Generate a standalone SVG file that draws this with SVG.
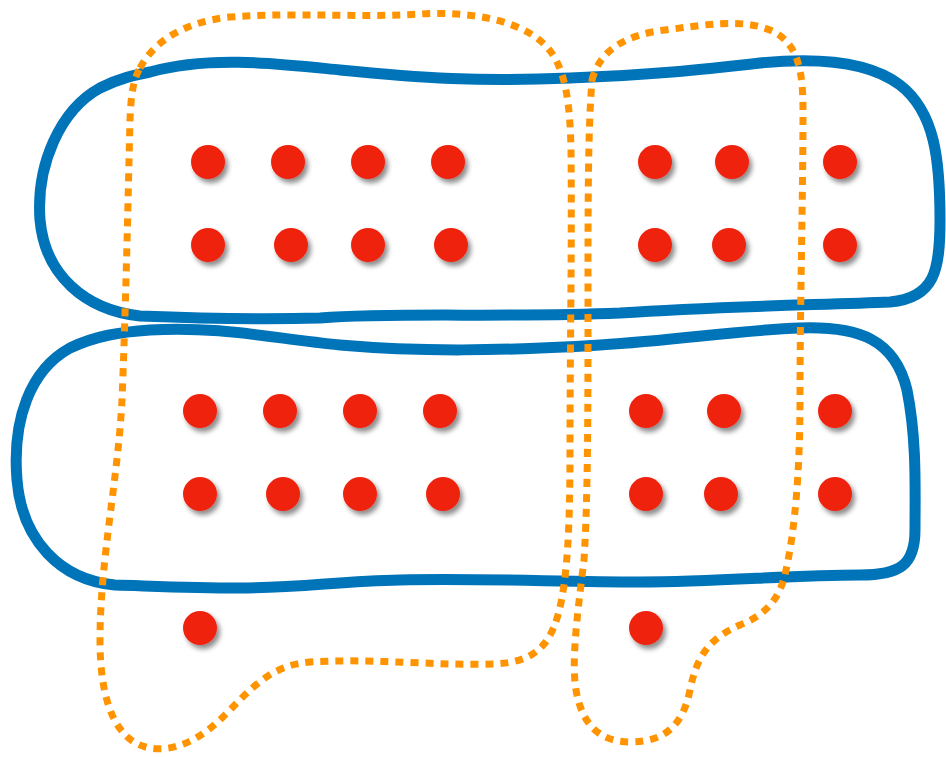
<svg xmlns="http://www.w3.org/2000/svg" width="946" height="757" viewBox="0 0 946 757">
<style>
.blue{fill:none;stroke:#0074B8;stroke-width:11;stroke-linejoin:round}
.orange{fill:none;stroke:#FF9400;stroke-width:7;stroke-dasharray:8 7}
.dot{fill:#EE2211;filter:url(#sh)}
</style>
<defs>
<filter id="sh" x="-50%" y="-50%" width="200%" height="200%">
<feDropShadow dx="3" dy="4" stdDeviation="2.5" flood-color="#000" flood-opacity="0.45"/>
</filter>
</defs>
<rect width="946" height="757" fill="#fff"/>
<g id="sets">
<path id="setTop" class="blue" d="M150,72 C210,55 280,64 340,70 C420,78 480,82 570,78 C650,75 700,70 760,63 C820,57 870,62 900,85 C935,112 940,160 940,220 C940,270 935,298 890,302 C820,305 720,306 620,313 C500,318 400,312 320,318 C250,320 190,318 140,316 C85,310 45,275 40,220 C36,165 60,110 100,88 C120,78 135,75 150,72 Z"/>
<path id="setBottom" class="blue" d="M150,330 C220,326 270,338 340,345 C420,352 500,351 600,345 C680,340 740,330 800,328 C860,326 895,340 907,390 C917,440 915,490 915,530 C915,565 900,575 860,575 C790,575 720,582 640,582 C560,582 480,578 400,580 C340,581 300,588 240,588 C190,588 150,586 115,585 C60,580 22,540 17,480 C12,420 30,370 70,348 C95,336 120,332 150,330 Z"/>
<path id="groupLeft" class="orange" d="M140,68 C155,40 185,22 230,17 C300,12 360,18 420,14 C470,11 520,20 545,45 C565,65 570,100 571,150 C572,250 570,350 570,450 C570,520 568,580 558,615 C548,650 530,662 495,664 C440,666 370,658 310,662 C270,665 250,690 225,715 C200,740 175,752 150,748 C115,742 100,700 100,640 C100,560 118,480 122,400 C126,300 128,200 130,120 C131,95 133,80 140,68 Z"/>
<path id="groupRight" class="orange" d="M592,80 C600,50 625,35 665,30 C705,25 740,18 770,30 C798,42 803,70 803,110 C803,200 800,300 800,400 C800,470 795,530 786,570 C780,600 765,615 740,625 C710,638 697,655 690,690 C683,725 665,742 630,742 C600,742 582,725 576,690 C571,660 578,610 584,560 C588,500 588,400 588,300 C588,200 588,130 592,80 Z"/>
</g>
<g id="dots">
<circle class="dot" cx="208" cy="162" r="17"/>
<circle class="dot" cx="288" cy="162" r="17"/>
<circle class="dot" cx="368" cy="162" r="17"/>
<circle class="dot" cx="448" cy="162" r="17"/>
<circle class="dot" cx="655" cy="162" r="17"/>
<circle class="dot" cx="732" cy="162" r="17"/>
<circle class="dot" cx="840" cy="162" r="17"/>
<circle class="dot" cx="208" cy="245" r="17"/>
<circle class="dot" cx="291" cy="245" r="17"/>
<circle class="dot" cx="368" cy="245" r="17"/>
<circle class="dot" cx="451" cy="245" r="17"/>
<circle class="dot" cx="655" cy="245" r="17"/>
<circle class="dot" cx="729" cy="245" r="17"/>
<circle class="dot" cx="840" cy="245" r="17"/>
<circle class="dot" cx="200" cy="411" r="17"/>
<circle class="dot" cx="280" cy="411" r="17"/>
<circle class="dot" cx="360" cy="411" r="17"/>
<circle class="dot" cx="440" cy="411" r="17"/>
<circle class="dot" cx="646" cy="411" r="17"/>
<circle class="dot" cx="724" cy="411" r="17"/>
<circle class="dot" cx="835" cy="411" r="17"/>
<circle class="dot" cx="200" cy="494" r="17"/>
<circle class="dot" cx="283" cy="494" r="17"/>
<circle class="dot" cx="360" cy="494" r="17"/>
<circle class="dot" cx="443" cy="494" r="17"/>
<circle class="dot" cx="646" cy="494" r="17"/>
<circle class="dot" cx="721" cy="494" r="17"/>
<circle class="dot" cx="835" cy="494" r="17"/>
<circle class="dot" cx="200" cy="628" r="17"/>
<circle class="dot" cx="646" cy="628" r="17"/>
</g>
</svg>
